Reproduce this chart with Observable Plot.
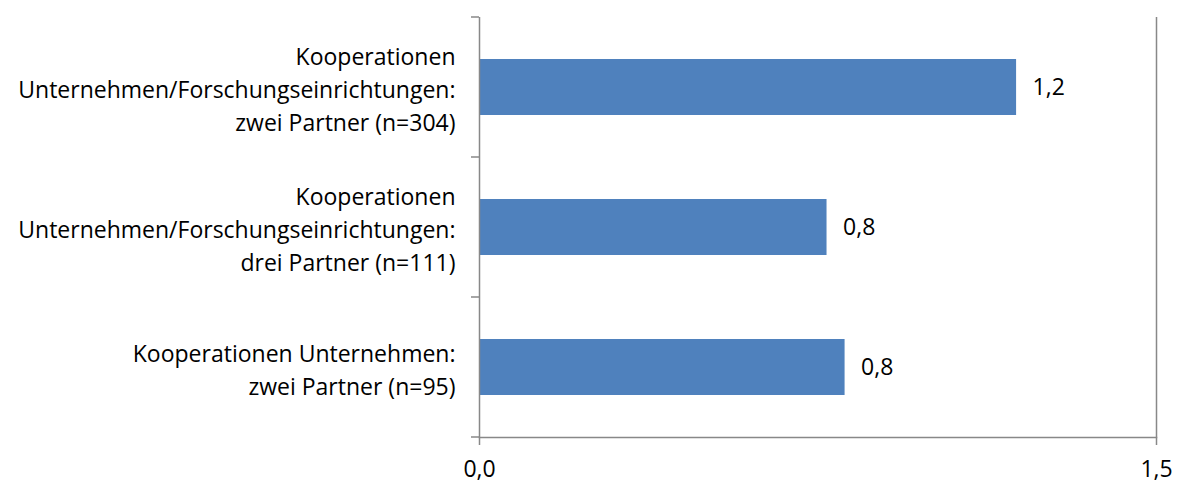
<!DOCTYPE html>
<html>
<head>
<meta charset="utf-8">
<script src="https://cdn.jsdelivr.net/npm/d3@7"></script>
<script src="https://cdn.jsdelivr.net/npm/@observablehq/plot@0.6"></script>
<style>
  html, body { margin: 0; padding: 0; background: #fff; }
  #chart { width: 1180px; height: 485px; }
</style>
</head>
<body>
<div id="chart"></div>
<script>
const categories = [
  "Kooperationen\nUnternehmen/Forschungseinrichtungen:\nzwei Partner (n=304)",
  "Kooperationen\nUnternehmen/Forschungseinrichtungen:\ndrei Partner (n=111)",
  "Kooperationen Unternehmen:\nzwei Partner (n=95)"
];
const values = [1.19, 0.77, 0.81];
const valueLabels = ["1,2", "0,8", "0,8"];
const xTicks = [0, 1.5];
const xTickLabels = ["0,0", "1,5"];

const data = categories.map((c, i) => ({category: c, value: values[i], label: valueLabels[i]}));

const FONT = "'Open Sans', sans-serif";
const FS = 23;
const AXIS = "#888888";

// tick marks at band boundaries on the y axis, computed from the y scale
function bandBoundaryTicks(index, scales, values, dimensions) {
  const y = scales.y;
  const x = scales.x;
  const step = typeof y.step === "function" ? y.step() : y.step;
  const bw = typeof y.bandwidth === "function" ? y.bandwidth() : y.bandwidth;
  const pad = (step - bw) / 2;
  const x0 = x(0);
  const g = d3.create("svg:g");
  const ys = new Set();
  for (const c of categories) {
    ys.add(Math.round(y(c) - pad));
    ys.add(Math.round(y(c) + bw + pad));
  }
  for (const yy of ys) {
    g.append("line")
      .attr("x1", x0 - 8).attr("x2", x0)
      .attr("y1", yy).attr("y2", yy)
      .attr("stroke", AXIS).attr("stroke-width", 1.5);
  }
  return g.node();
}

const plot = Plot.plot({
  width: 1180,
  height: 485,
  marginLeft: 479,
  marginRight: 24,
  marginTop: 17,
  marginBottom: 48,
  style: {fontFamily: FONT, fontSize: FS + "px", color: "#000", background: "#fff"},
  x: {domain: [0, 1.5], axis: null},
  y: {domain: categories, paddingInner: 0.6, paddingOuter: 0.3, axis: null},
  marks: [
    Plot.barX(data, {y: "category", x: "value", fill: "#4f81bd"}),
    Plot.frame({anchor: "bottom", stroke: AXIS, strokeWidth: 1.5}),
    Plot.ruleX([0], {stroke: AXIS, strokeWidth: 1.5}),
    Plot.ruleX([1.5], {stroke: AXIS, strokeWidth: 1.5}),
    Plot.axisX({ticks: xTicks, tickFormat: (d, i) => xTickLabels[i], tickSize: 8, tickPadding: 15,
      stroke: AXIS, strokeWidth: 1.5, fontSize: FS, fill: "#000", anchor: "bottom", label: null}),
    bandBoundaryTicks,
    Plot.text(data, {y: "category", x: 0, text: "category", textAnchor: "end", dx: -24,
      lineHeight: 1.44, fontSize: FS, fill: "#000"}),
    Plot.text(data, {y: "category", x: "value", text: "label", textAnchor: "start", dx: 16,
      fontSize: FS, fill: "#000"})
  ]
});

document.getElementById("chart").appendChild(plot);
</script>
</body>
</html>
